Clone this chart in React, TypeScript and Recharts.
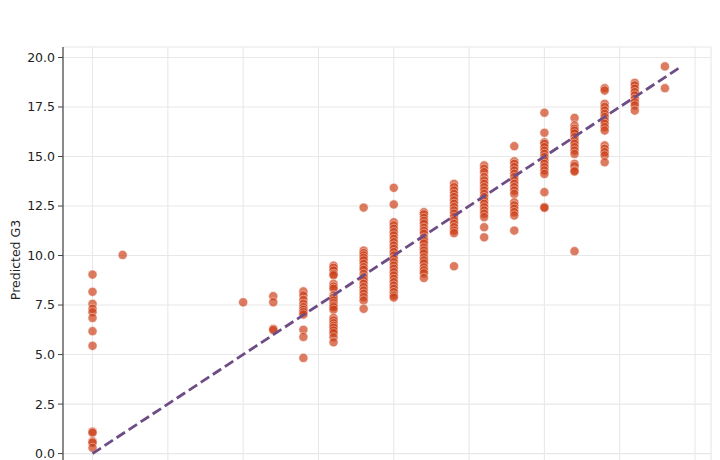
import React from 'react';
import {
  ScatterChart,
  Scatter,
  XAxis,
  YAxis,
  CartesianGrid,
} from 'recharts';

// actual G3 grades (x) and the model's predictions for each grade
const actualGrades = [0, 1, 5, 6, 7, 8, 9, 10, 11, 12, 13, 14, 15, 16, 17, 18, 19];

const predictedByGrade = [
  [9.04, 8.17, 7.56, 7.31, 7.14, 6.85, 6.18, 5.44, 1.11, 1.05, 0.62, 0.55, 0.29],
  [10.03],
  [7.64],
  [7.95, 7.64, 6.3, 6.24],
  [8.19, 7.98, 7.76, 7.56, 7.39, 7.26, 7.14, 7.02, 6.25, 5.89, 4.83],
  [9.49, 9.38, 9.24, 9.07, 9.0, 8.57, 8.43, 8.32, 7.98, 7.86, 7.73, 7.59, 7.47, 7.39, 7.26, 6.85, 6.72, 6.58, 6.45, 6.35, 6.21, 6.08, 5.87, 5.62],
  [12.42, 10.25, 10.12, 10.0, 9.88, 9.75, 9.58, 9.41, 9.28, 9.07, 8.9, 8.74, 8.57, 8.4, 8.23, 8.07, 7.9, 7.73, 7.31],
  [13.42, 12.58, 11.68, 11.52, 11.35, 11.18, 11.01, 10.84, 10.67, 10.5, 10.34, 10.17, 10.0, 9.83, 9.66, 9.49, 9.33, 9.16, 8.99, 8.82, 8.65, 8.48, 8.32, 8.15, 7.98, 7.88],
  [12.19, 12.08, 11.9, 11.75, 11.6, 11.4, 11.25, 11.1, 10.9, 10.75, 10.6, 10.4, 10.25, 10.1, 9.9, 9.75, 9.6, 9.4, 9.25, 9.1, 8.87],
  [13.62, 13.45, 13.28, 13.11, 12.95, 12.78, 12.61, 12.44, 12.27, 12.11, 11.94, 11.77, 11.6, 11.43, 11.26, 11.13, 9.46],
  [14.55, 14.38, 14.21, 13.96, 13.79, 13.62, 13.45, 13.28, 13.11, 12.95, 12.78, 12.61, 12.44, 12.27, 12.11, 11.94, 11.43, 10.92],
  [15.52, 14.76, 14.63, 14.46, 14.29, 14.12, 13.96, 13.79, 13.62, 13.45, 13.28, 13.11, 12.69, 12.53, 12.36, 12.19, 12.02, 11.26],
  [17.21, 16.2, 15.72, 15.64, 15.47, 15.3, 15.13, 14.97, 14.8, 14.63, 14.46, 14.29, 14.12, 13.2, 12.45, 12.41],
  [16.95, 16.57, 16.4, 16.3, 16.16, 15.98, 15.8, 15.64, 15.47, 15.3, 15.13, 14.63, 14.51, 14.29, 14.24, 10.22],
  [18.45, 18.33, 17.66, 17.5, 17.32, 17.15, 16.99, 16.82, 16.65, 16.48, 16.31, 15.56, 15.39, 15.22, 15.05, 14.71],
  [18.72, 18.59, 18.42, 18.25, 18.08, 17.91, 17.74, 17.58, 17.32],
  [19.55, 18.45],
];

// ideal-prediction diagonal runs from the min to the max of all values
const diagonalEnds = [0, 19.55];

const axisTicks = [0, 2.5, 5, 7.5, 10, 12.5, 15, 17.5, 20];
const axisDomain = [-0.98, 20.53];

const points = actualGrades.flatMap((g, i) =>
  predictedByGrade[i].map((p) => ({ actual: g, predicted: p }))
);
const diagonal = diagonalEnds.map((v) => ({ actual: v, predicted: v }));

const FONT = '"DejaVu Sans", sans-serif';
const tickStyle = { fontSize: 12.5, fill: '#222', fontFamily: FONT };

const Dot = (props: any) => {
  const { cx, cy } = props;
  if (cx == null || cy == null) return <g />;
  return (
    <circle
      cx={cx}
      cy={cy}
      r={4.6}
      fill="#cc3d16"
      stroke="#ffffff"
      strokeWidth={0.6}
      opacity={0.68}
    />
  );
};

const YLabel = (props: any) => {
  const vb = props.viewBox || {};
  const x = 15.5;
  const y = (vb.y ?? 47) + (vb.height ?? 426) / 2;
  return (
    <text
      x={x}
      y={y}
      transform={`rotate(-90 ${x} ${y})`}
      textAnchor="middle"
      dominantBaseline="central"
      style={{ fontSize: 12.5, fill: '#222', fontFamily: FONT }}
    >
      Predicted G3
    </text>
  );
};

export default function App() {
  return (
    <div style={{ position: 'absolute', left: 0, top: 0, width: 720, height: 460, overflow: 'hidden', background: '#fff' }}>
      <ScatterChart
        width={720}
        height={540}
        margin={{ top: 47, right: 9, left: 0, bottom: 27 }}
      >
        <CartesianGrid stroke="#e8e8e8" strokeWidth={1.1} />
        <XAxis
          type="number"
          dataKey="actual"
          domain={axisDomain}
          ticks={axisTicks}
          allowDataOverflow
          height={40}
          tickSize={5}
          tickMargin={3}
          tickFormatter={(v: number) => v.toFixed(1)}
          tick={tickStyle}
          stroke="#444"
          axisLine={{ stroke: '#444', strokeWidth: 1.2 }}
          tickLine={{ stroke: '#444' }}
          label={{ value: 'Actual G3', position: 'insideBottom', offset: 0, style: tickStyle }}
        />
        <XAxis
          xAxisId="top"
          orientation="top"
          type="number"
          domain={axisDomain}
          allowDataOverflow
          height={0}
          tick={false}
          tickLine={false}
          axisLine={{ stroke: '#444', strokeWidth: 1.2 }}
        />
        <YAxis
          type="number"
          dataKey="predicted"
          domain={axisDomain}
          ticks={axisTicks}
          allowDataOverflow
          width={63}
          tickSize={5}
          tickMargin={3}
          tickFormatter={(v: number) => v.toFixed(1)}
          tick={tickStyle}
          axisLine={{ stroke: '#444', strokeWidth: 1.2 }}
          tickLine={{ stroke: '#444' }}
          label={<YLabel />}
        />
        <YAxis
          yAxisId="right"
          orientation="right"
          type="number"
          domain={axisDomain}
          allowDataOverflow
          width={0}
          tick={false}
          tickLine={false}
          axisLine={{ stroke: '#444', strokeWidth: 1.2 }}
        />
        <Scatter data={points} shape={<Dot />} isAnimationActive={false} />
        <Scatter
          data={diagonal}
          shape={() => <g />}
          line={{ stroke: '#6e4c85', strokeWidth: 2.8, strokeDasharray: '10 4.4' }}
          isAnimationActive={false}
        />
      </ScatterChart>
    </div>
  );
}
